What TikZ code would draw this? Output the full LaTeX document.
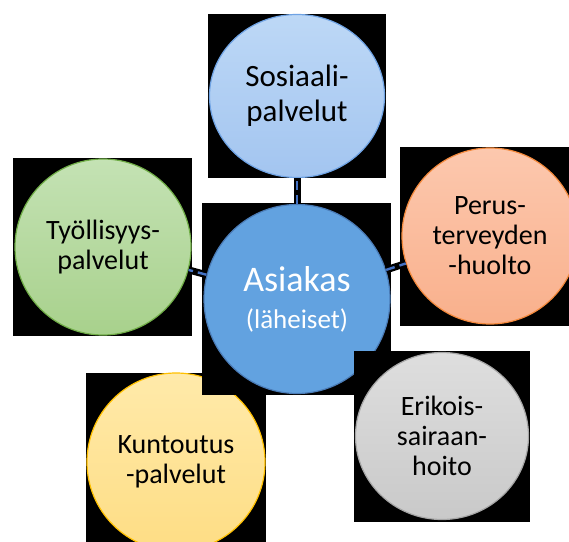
\documentclass[tikz,border=0pt]{standalone}
\usepackage{fontspec}
\setmainfont{Carlito}
\usetikzlibrary{shapes.geometric}
\definecolor{sosTop}{HTML}{BDD8F6}
\definecolor{sosBot}{HTML}{A3C5F0}
\definecolor{sosLine}{HTML}{6FA3E4}
\definecolor{tyoTop}{HTML}{C4E2B4}
\definecolor{tyoBot}{HTML}{A8D18C}
\definecolor{tyoLine}{HTML}{70AD47}
\definecolor{perTop}{HTML}{FCC8AE}
\definecolor{perBot}{HTML}{F9B08C}
\definecolor{perLine}{HTML}{F4893C}
\definecolor{eriTop}{HTML}{DEDEDE}
\definecolor{eriBot}{HTML}{C9C9C9}
\definecolor{eriLine}{HTML}{A5A5A5}
\definecolor{kunTop}{HTML}{FFEAAA}
\definecolor{kunBot}{HTML}{FEDD84}
\definecolor{kunLine}{HTML}{FFC000}
\definecolor{cenFill}{HTML}{62A2E0}
\definecolor{cenLine}{HTML}{4A7BB6}
\definecolor{linkBlue}{HTML}{4472C4}
\begin{document}
\begin{tikzpicture}
  [x=1pt,y=1pt,
   bubble/.style={ellipse,inner sep=0pt,line width=1.2pt,align=center,
     font=\fontsize{28}{30}\selectfont},
   link/.style={draw=linkBlue,line width=2.4pt,dash pattern=on 9pt off 5pt,
     preaction={draw=black,line width=7pt,solid}}]
  \useasboundingbox (0,0) rectangle (569,541);
  \clip (0,0) rectangle (569,541);

  \fill[black] (208,363) rectangle (386,527);
  \node[bubble,minimum width=175,minimum height=163,top color=sosTop,bottom color=sosBot,draw=sosLine,
    font=\fontsize{31}{35}\selectfont] (sos) at (297,445) {Sosiaali-\\palvelut};
  \fill[black] (13,205) rectangle (192,383);
  \node[bubble,minimum width=176,minimum height=176,top color=tyoTop,bottom color=tyoBot,draw=tyoLine]
    (tyo) at (103,294) {Työllisyys-\\palvelut};
  \fill[black] (400,215) rectangle (572,394);
  \node[bubble,minimum width=176,minimum height=176,top color=perTop,bottom color=perBot,draw=perLine]
    (per) at (490,305) {Perus-\\terveyden\\-huolto};
  \fill[black] (86,-4) rectangle (266,168);
  \node[bubble,minimum width=178,minimum height=178,top color=kunTop,bottom color=kunBot,draw=kunLine]
    (kun) at (176,79) {Kuntoutus\\-palvelut};
  \fill[black] (202,146) rectangle (391,338);
  \node[bubble,minimum width=186,minimum height=189,fill=cenFill,draw=cenLine,text=white,
    font=\fontsize{36}{37}\selectfont] (cen) at (297,242)
    {Asiakas\\{\fontsize{27}{37}\selectfont(läheiset)}};
  \fill[black] (354,19) rectangle (530,190);
  \node[bubble,minimum width=173,minimum height=167,top color=eriTop,bottom color=eriBot,draw=eriLine]
    (eri) at (442,105) {Erikois-\\sairaan-\\hoito};

  \draw[link] (cen) -- (sos);
  \draw[link] (cen) -- (tyo);
  \draw[link] (cen) -- (per);
\end{tikzpicture}
\end{document}
